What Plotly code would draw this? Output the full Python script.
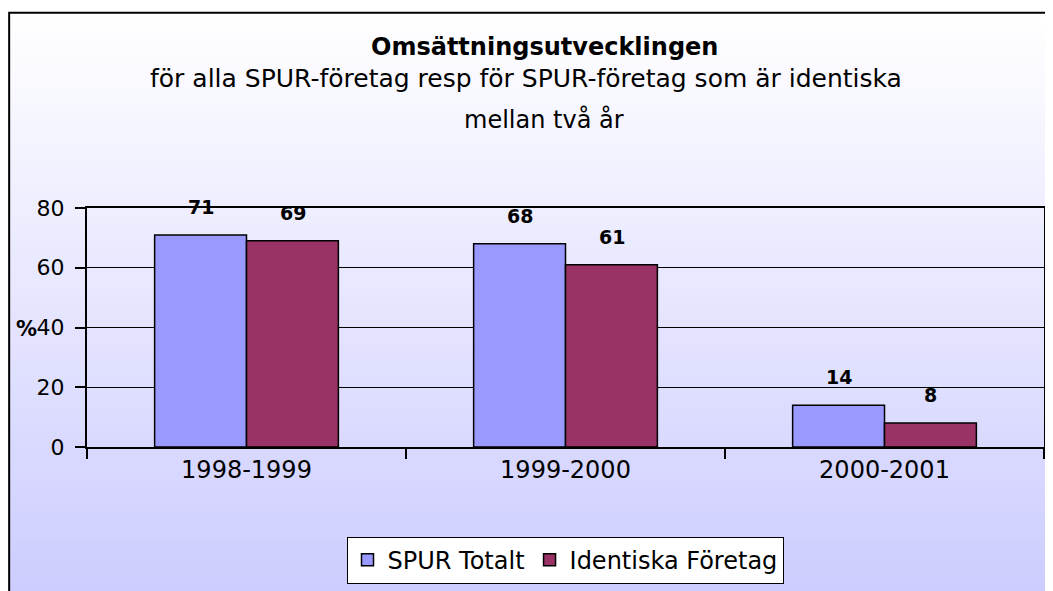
import plotly.graph_objects as go

# ---- data ----
categories = ["1998-1999", "1999-2000", "2000-2001"]
spur_totalt = [71, 68, 14]
identiska = [69, 61, 8]
series_names = ["SPUR Totalt", "Identiska Företag"]
y_ticks = [0, 20, 40, 60, 80]

title_main = "Omsättningsutvecklingen"
subtitle_1 = "för alla SPUR-företag resp för SPUR-företag som är identiska"
subtitle_2 = "mellan två år"

# ---- layout geometry (screen pixels; page body has an 8px margin) ----
OFF = 8
W, H = 1053 - OFF, 591 - OFF
PL, PR, PT, PB = 87 - OFF, 1046 - OFF, 208 - OFF, 449 - OFF
pw, ph = PR - PL, PB - PT
FONT = "DejaVu Sans"


def px_x(x):
    return (x - OFF - PL) / pw


def px_y(y):
    return (PB - (y - OFF)) / ph


fig = go.Figure()
fig.add_trace(go.Bar(
    x=categories, y=spur_totalt, name=series_names[0],
    marker=dict(color="#9999FF", line=dict(color="black", width=1.5)),
))
fig.add_trace(go.Bar(
    x=categories, y=identiska, name=series_names[1],
    marker=dict(color="#993366", line=dict(color="black", width=1.5)),
))

# gradient background bands
shapes = []
top, bottom = 11, 600
n = 60
for i in range(n):
    y0 = top + (bottom - top) * i / n
    y1 = top + (bottom - top) * (i + 1) / n + 0.5
    t = (i + 0.5) / n
    r = round(255 - (255 - 204) * t)
    g = round(255 - (255 - 204) * t)
    shapes.append(dict(
        type="rect", xref="paper", yref="paper", layer="below",
        x0=px_x(8), x1=px_x(1070), y0=px_y(y1), y1=px_y(y0),
        fillcolor=f"rgb({r},{g},255)", line=dict(width=0),
    ))
# outer frame
shapes.append(dict(
    type="rect", xref="paper", yref="paper", layer="above",
    x0=px_x(9), x1=px_x(1080), y0=px_y(620), y1=px_y(11),
    line=dict(color="black", width=2), fillcolor="rgba(0,0,0,0)",
))

annotations = [
    dict(text="<b>" + title_main + "</b>", x=px_x(545), xref="paper", y=px_y(46),
         yref="paper", xanchor="center", yanchor="middle", showarrow=False,
         font=dict(family=FONT, size=24, color="black")),
    dict(text=subtitle_1, x=px_x(527), xref="paper", y=px_y(77), yref="paper",
         xanchor="center", yanchor="middle", showarrow=False,
         font=dict(family=FONT, size=25, color="black")),
    dict(text=subtitle_2, x=px_x(545), xref="paper", y=px_y(119), yref="paper",
         xanchor="center", yanchor="middle", showarrow=False,
         font=dict(family=FONT, size=24, color="black")),
    dict(text="<b>%</b>", x=px_x(26), xref="paper", y=px_y(330), yref="paper",
         xanchor="center", yanchor="middle", showarrow=False,
         font=dict(family=FONT, size=21, color="black")),
]

# data labels
for vals, shift in ((spur_totalt, -46), (identiska, 46)):
    for c, v in zip(categories, vals):
        annotations.append(dict(
            text=f"<b>{v}</b>", x=c, y=v, xref="x", yref="y",
            xshift=shift, yshift=28, showarrow=False,
            xanchor="center", yanchor="middle",
            font=dict(family=FONT, size=19, color="black"),
        ))

fig.update_layout(
    width=W, height=H,
    margin=dict(l=PL, r=W - PR, t=PT, b=H - PB, pad=0),
    paper_bgcolor="white",
    plot_bgcolor="rgba(0,0,0,0)",
    barmode="group", bargap=0.424, bargroupgap=0,
    font=dict(family=FONT, size=20, color="black"),
    shapes=shapes,
    annotations=annotations,
    showlegend=True,
    legend=dict(
        orientation="h", x=px_x(566), y=px_y(563),
        xanchor="center", yanchor="middle",
        bgcolor="white", bordercolor="black", borderwidth=1,
        font=dict(family=FONT, size=24, color="black"),
        itemwidth=30, tracegroupgap=0,
    ),
)

fig.update_xaxes(
    type="category", showline=True, linecolor="black", linewidth=2,
    mirror=True, ticks="outside", tickson="boundaries", ticklen=10,
    tickwidth=1.5, tickcolor="black", showgrid=False,
    tickfont=dict(family=FONT, size=24, color="black"),
    ticklabelstandoff=0,
)
fig.update_yaxes(
    range=[0, 80], tickvals=y_ticks, showline=True, linecolor="black",
    linewidth=2, mirror=True, ticks="outside", ticklen=10, tickwidth=1.5,
    tickcolor="black", showgrid=True, gridcolor="black", gridwidth=1.2,
    zeroline=False, tickfont=dict(family=FONT, size=22, color="black"),
    ticklabelstandoff=6,
)

fig.write_html("out.html")
